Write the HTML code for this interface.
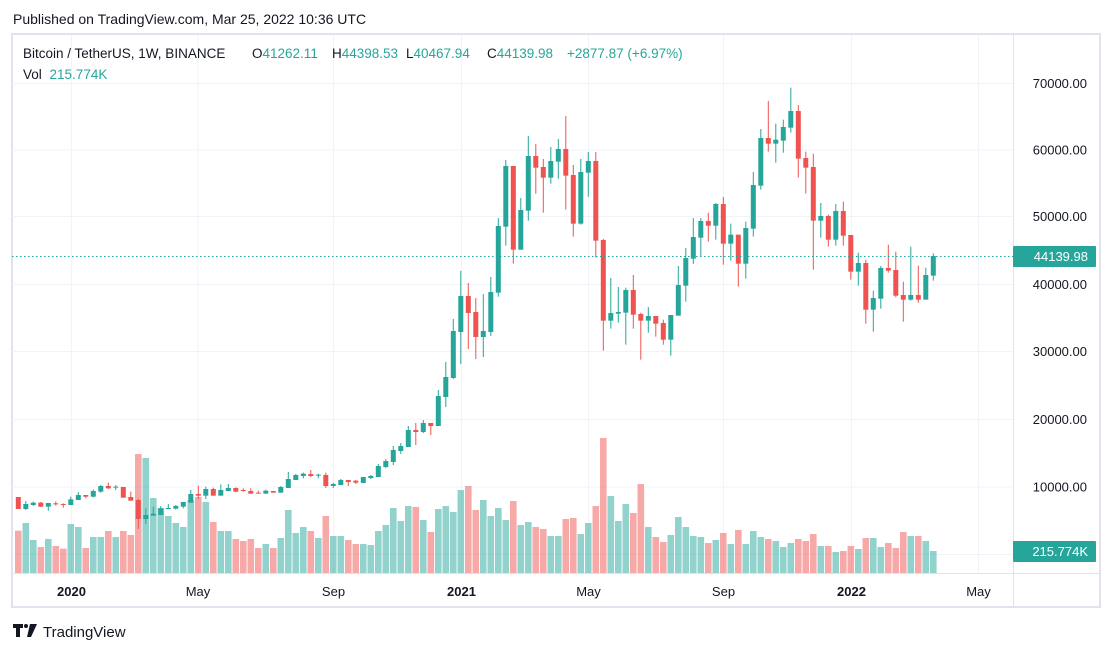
<!DOCTYPE html>
<html><head><meta charset="utf-8"><style>
body{margin:0;background:#fff;width:1113px;height:652px;overflow:hidden;font-family:"Liberation Sans",sans-serif;}
svg text{font-family:"Liberation Sans",sans-serif;}
</style></head><body>
<svg id="s" width="1113" height="652" xmlns="http://www.w3.org/2000/svg">
<rect width="1113" height="652" fill="#fff"/>
<text x="13" y="24" font-size="14" fill="#131722">Published on TradingView.com, Mar 25, 2022 10:36 UTC</text>
<rect x="12" y="34" width="1088" height="573" fill="none" stroke="#e0e3eb" stroke-width="2"/>
<g id="grid" stroke="#f0f3fa" stroke-width="1"></g>
<line x1="12" y1="573.5" x2="1100" y2="573.5" stroke="#e0e3eb"/>
<line x1="1013.5" y1="34" x2="1013.5" y2="607" stroke="#e0e3eb"/>
<g id="vol"></g>
<g id="cdl"></g>
<line x1="12" y1="256.5" x2="1013" y2="256.5" stroke="#26a69a" stroke-dasharray="1.5,2.5"/>
<g id="lbl" font-size="13" fill="#131722"></g>
<rect x="1013" y="246" width="83" height="21" rx="1" fill="#26a69a"/>
<text x="1088" y="261" font-size="13" fill="#fff" text-anchor="end">44139.98</text>
<rect x="1013" y="541" width="83" height="21" rx="1" fill="#26a69a"/>
<text x="1088" y="556" font-size="13" fill="#fff" text-anchor="end">215.774K</text>
<g font-size="13.5">
<text x="23" y="58" fill="#131722">Bitcoin / TetherUS, 1W, BINANCE</text>
<text x="252" y="58" fill="#131722">O<tspan fill="#26a69a">41262.11</tspan></text>
<text x="332" y="58" fill="#131722">H<tspan fill="#26a69a">44398.53</tspan></text>
<text x="406" y="58" fill="#131722">L<tspan fill="#26a69a">40467.94</tspan></text>
<text x="487" y="58" fill="#131722">C<tspan fill="#26a69a">44139.98</tspan></text>
<text x="567" y="58" fill="#26a69a">+2877.87 (+6.97%)</text>
<text x="23" y="79" fill="#131722">Vol <tspan fill="#26a69a" dx="4">215.774K</tspan></text>
</g>
<g fill="#131722">
<path d="M13 624h10v4h-3v9h-4v-9h-3z"/><circle cx="26" cy="626" r="2"/><path d="M30 624h7l-6 13h-4z"/>
</g>
<text x="43" y="637" font-size="15" fill="#131722">TradingView</text>
</svg>
<script>
var NS="http://www.w3.org/2000/svg";
function el(p,t,a,txt){var e=document.createElementNS(NS,t);for(var k in a)e.setAttribute(k,a[k]);if(txt)e.textContent=txt;p.appendChild(e);return e;}
var grid=document.getElementById('grid'),lbl=document.getElementById('lbl');
var py=[[70000,83],[60000,149.5],[50000,216],[40000,284],[30000,351],[20000,419],[10000,486.5]];
py.forEach(function(p){el(grid,'line',{x1:12,x2:1013,y1:p[1]+0.5,y2:p[1]+0.5});el(lbl,'text',{x:1087,y:p[1]+5,'text-anchor':'end'},p[0].toFixed(2));});
el(grid,'line',{x1:12,x2:1013,y1:554.5,y2:554.5});
var tx=[[71.5,'2020',1],[198,'May'],[333.5,'Sep'],[461.5,'2021',1],[588.5,'May'],[723.5,'Sep'],[851.5,'2022',1],[978.5,'May']];
tx.forEach(function(t){el(grid,'line',{x1:t[0],x2:t[0],y1:35,y2:573});var a={x:t[0],y:596,'text-anchor':'middle'};if(t[2])a['font-weight']='bold';el(lbl,'text',a,t[1]);});
var S1=[[171,207,171,207,'r'],[192,207,183,210,'g'],[188,195,185,198,'g'],[188,200,186,201,'r'],[189,200,189,212,'g'],[190,193,184,197,'r'],[192,194,190,203,'r'],[178,195,170,195,'g'],[165,180,156,180,'g'],[165,170,165,175,'r'],[153,170,148,172,'g'],[138,155,135,158,'g'],[138,145,128,147,'r'],[140,142,135,150,'g'],[141,173,141,173,'r'],[171,182,155,182,'r'],[180,237,176,267,'r'],[225,237,205,252,'g'],[221,227,200,227,'g'],[205,225,198,225,'g'],[204,206,192,206,'g'],[198,206,195,208,'g'],[186,200,186,205,'g'],[162,188,150,188,'g'],[162,167,137,177,'r'],[147,167,140,177,'g'],[147,167,143,167,'r'],[150,167,133,167,'g'],[144,153,132,153,'g'],[144,155,142,157,'r'],[150,153,145,155,'r'],[153,161,145,161,'r']];
var S2=[[698,701,692,701,'r'],[692,701,689,701,'g'],[693,698,693,698,'r'],[681,698,678,698,'g'],[657,684,636,684,'g'],[645,660,642,660,'g'],[641,648,638,655,'g'],[642,648,630,651,'r'],[644,646,641,655,'g'],[645,678,638,684,'r'],[672,678,669,684,'g'],[660,675,657,675,'g'],[660,666,660,678,'r'],[662,668,660,672,'r'],[651,669,651,669,'g'],[648,654,645,657,'g'],[618,651,612,651,'g'],[603,621,597,624,'g'],[570,606,558,615,'g'],[558,573,549,582,'g'],[510,561,498,561,'g'],[510,516,489,555,'r'],[489,516,480,519,'g'],[489,498,489,525,'r'],[408,498,390,498,'g'],[351,411,306,441,'g'],[213,354,177,357,'g'],[108,216,33,312,'g'],[108,159,69,267,'r'],[156,231,114,297,'r'],[213,231,102,291,'g'],[96,216,51,228,'g']];
var S3=[[378,578,354,590,'g'],[198,380,180,437,'g'],[198,449,198,491,'r'],[330,449,294,449,'g'],[168,332,108,362,'g'],[168,203,132,281,'r'],[201,233,177,338,'r'],[183,233,141,251,'g'],[147,185,117,236,'g'],[147,227,48,329,'r'],[225,371,195,410,'r'],[216,371,177,374,'g'],[183,218,156,290,'g'],[183,422,156,473,'r'],[420,662,417,752,'r'],[639,662,534,686,'g'],[636,641,561,668,'g'],[570,638,563,734,'g'],[570,644,525,686,'r'],[642,662,638,779,'r'],[648,662,621,698,'g'],[648,671,648,710,'r'],[669,719,659,734,'r'],[645,719,645,767,'g'],[555,647,498,647,'g'],[474,557,444,605,'g'],[411,476,354,492,'g'],[363,413,354,470,'g'],[363,377,338,425,'r']];
var S4=[[372,437,369,479,'g'],[372,491,351,554,'r'],[464,491,431,542,'g'],[464,551,464,620,'r'],[444,551,425,596,'g'],[315,446,276,470,'g'],[174,317,147,329,'g'],[174,191,63,215,'r'],[179,191,131,248,'g'],[141,182,119,218,'g'],[93,143,23,158,'g'],[93,236,75,293,'r'],[234,263,215,341,'r'],[261,422,221,569,'r'],[408,422,369,473,'g'],[408,479,404,500,'r'],[393,479,372,497,'g'],[393,467,365,497,'r'],[465,575,465,599,'r'],[549,575,518,617,'g'],[549,689,539,731,'r'],[654,689,632,755,'g'],[564,656,558,686,'g'],[564,572,494,578,'r'],[570,647,515,652,'r'],[645,659,605,725,'r'],[645,659,500,662,'g'],[645,659,557,668,'r'],[585,659,563,659,'g'],[528,587,520,602,'g']];
var C=[];
S1.forEach(function(c){C.push([c,440]);});S2.forEach(function(c){C.push([c,260]);});S3.forEach(function(c){C.push([c,100]);});S4.forEach(function(c){C.push([c,80]);});
var V1=[272,249,300,321,297,318,326,252,261,324,291,291,273,291,273,285,42,54,174,204,228,249,261,180,171,186,246,273,273,297,303];
var V2=[837,864,852,864,834,750,819,801,813,834,768,828,828,840,852,852,855,813,795,744,783,738,741,780,816,747,738,756,690,678,750,720,768];
var V5=[234,270,213,285,276,291,297,318,318,267,264,312,279,228,24,198,273,222,249,162,291,321,336,315,261,291,318,321,339,330,309,342,300,342,303,321,327,333,351,339,327,333,312,348,348,366,363,348,357,324,324,351,339,354,306,318,318,333,363];
var V=[];V1.forEach(function(v){V.push(440+v/3);});V2.forEach(function(v){V.push(260+v/3);});V5.forEach(function(v){V.push(430+v/3);});
var cg=document.getElementById('cdl'),vg=document.getElementById('vol');
C.forEach(function(d,i){var c=d[0],o=d[1],x=18.3+7.5*i,col=c[4]=='g'?'#26a69a':'#ef5350';
 if(V[i]!==undefined){el(vg,'rect',{x:x-3.3,y:V[i],width:6.6,height:573-V[i],fill:col,'fill-opacity':0.5});}
 var t=o+c[0]/3,b=o+c[1]/3,wt=o+c[2]/3,wb=o+c[3]/3;
 el(cg,'rect',{x:x-0.5,y:wt,width:1,height:Math.max(wb-wt,1),fill:col});
 el(cg,'rect',{x:x-2.5,y:t,width:5,height:Math.max(b-t,1),fill:col});
});
</script>
</body></html>
